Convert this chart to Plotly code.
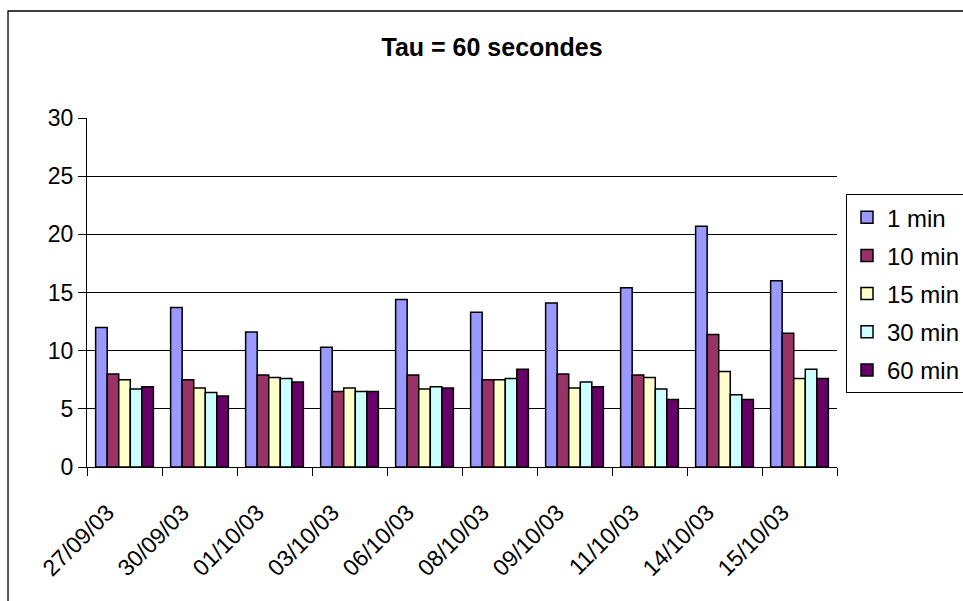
import plotly.graph_objects as go

# Dates of the measurement days
dates = ["27/09/03", "30/09/03", "01/10/03", "03/10/03", "06/10/03",
         "08/10/03", "09/10/03", "11/10/03", "14/10/03", "15/10/03"]

# Values per averaging window
v_1min = [12.0, 13.7, 11.6, 10.3, 14.4, 13.3, 14.1, 15.4, 20.7, 16.0]
v_10min = [8.0, 7.5, 7.9, 6.5, 7.9, 7.5, 8.0, 7.9, 11.4, 11.5]
v_15min = [7.5, 6.8, 7.7, 6.8, 6.7, 7.5, 6.8, 7.7, 8.2, 7.6]
v_30min = [6.7, 6.4, 7.6, 6.5, 6.9, 7.6, 7.3, 6.7, 6.2, 8.4]
v_60min = [6.9, 6.1, 7.3, 6.5, 6.8, 8.4, 6.9, 5.8, 5.8, 7.6]

series_names = ["1 min", "10 min", "15 min", "30 min", "60 min"]
series_values = [v_1min, v_10min, v_15min, v_30min, v_60min]
series_colors = ["#9999FF", "#993366", "#FFFFCC", "#CCFFFF", "#660066"]

y_ticks = [0, 5, 10, 15, 20, 25, 30]

FONT = "Liberation Sans, Arial, sans-serif"

fig = go.Figure()
for name, vals, col in zip(series_names, series_values, series_colors):
    fig.add_trace(go.Bar(
        x=dates, y=vals, name=name, legendgroup=name,
        marker=dict(color=col, line=dict(color="black", width=1.5)),
    ))

fig.update_layout(
    width=963, height=601,
    margin=dict(l=87, r=126, t=118, b=134, autoexpand=False),
    paper_bgcolor="white", plot_bgcolor="white",
    barmode="group", bargap=0.23, bargroupgap=0,
    font=dict(family=FONT, size=23, color="black"),
    title=dict(text="<b>Tau = 60 secondes</b>", x=0.511, xanchor="center",
               y=0.922, yanchor="middle", font=dict(size=25, family=FONT)),
    legend=dict(x=1.012, xanchor="left", y=0.782, yanchor="top",
                bgcolor="white", bordercolor="black", borderwidth=1,
                font=dict(size=24, family=FONT), tracegroupgap=4,
                itemwidth=30),
    showlegend=True,
)

fig.update_xaxes(
    type="category", tickangle=-45, showgrid=False,
    showline=True, linecolor="black", linewidth=1,
    ticks="outside", tickson="boundaries", ticklen=8, tickcolor="black",
    tickfont=dict(size=23), ticklabelstandoff=22, ticklabelshift=-17,
)
fig.update_yaxes(
    range=[0, 30], tickvals=y_ticks, showgrid=True, gridcolor="black",
    gridwidth=1, showline=True, linecolor="black", linewidth=1,
    ticks="outside", ticklen=8, tickcolor="black", zeroline=False,
    tickfont=dict(size=23),
)

# Outer chart frame
fig.add_shape(type="rect", xref="paper", yref="paper",
              x0=-0.1053, x1=1.5, y0=-0.6, y1=1.3066,
              line=dict(color="black", width=1.3), layer="below")

fig.write_html("out.html")
